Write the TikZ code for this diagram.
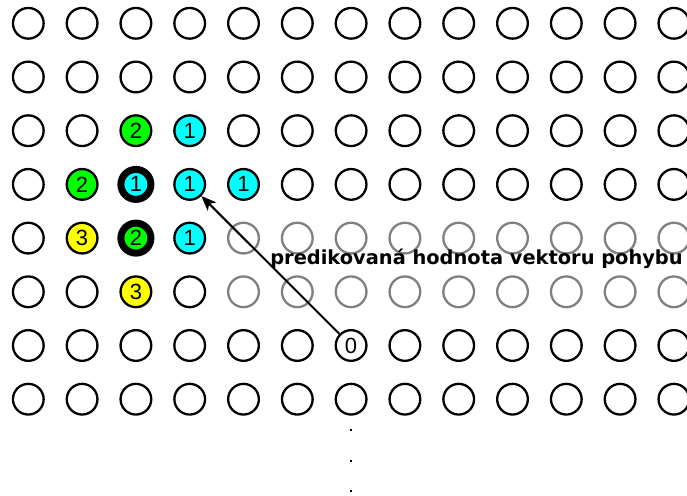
\documentclass[tikz,border=0pt]{standalone}
\usepackage{fontspec}
\setmainfont{Liberation Sans}
\newfontfamily\labelfont{DejaVu Sans}
\usetikzlibrary{arrows.meta}
\definecolor{ringgrey}{HTML}{808080}
\definecolor{mvgreen}{HTML}{00FF00}
\definecolor{mvcyan}{HTML}{00FFFF}
\definecolor{mvyellow}{HTML}{FFFF00}
\begin{document}
\begin{tikzpicture}[x=1pt,y=-1pt,
  cell/.style={circle,draw=black,line width=2.3pt,minimum size=30.7pt,inner sep=0pt,
    font=\fontsize{22}{22}\selectfont},
  faint/.style={cell,draw=ringgrey},
  heavy/.style={cell,line width=7pt,minimum size=30pt},
  dotmark/.style={rectangle,fill=black,inner sep=0pt,minimum size=2.8pt},
  vec/.style={line width=2pt,-{Stealth[length=15pt,width=12pt,inset=4pt]}}]
\useasboundingbox (0,0) rectangle (687,495);
% plain rings
\foreach \j/\cols in {0/{0,1,...,12},1/{0,1,...,12},2/{0,1,4,5,...,12},3/{0,5,6,...,12},
                      4/{0},5/{0,1,3},6/{0,1,2,3,4,5,7,8,9,10,11,12},7/{0,1,...,12}}{
  \foreach \i in \cols {
    \node[cell] (c\i-\j) at ({28.3+53.8*\i},{23.3+53.7*\j}) {};
  }
}
% grey rings
\foreach \j in {4,5}{
  \foreach \i in {4,5,...,12}{
    \node[faint] (c\i-\j) at ({28.3+53.8*\i},{23.3+53.7*\j}) {};
  }
}
% numbered rings
\node[cell,fill=mvgreen]  (c2-2) at ({28.3+53.8*2},{23.3+53.7*2}) {2};
\node[cell,fill=mvcyan]   (c3-2) at ({28.3+53.8*3},{23.3+53.7*2}) {1};
\node[cell,fill=mvgreen]  (c1-3) at ({28.3+53.8*1},{23.3+53.7*3}) {2};
\node[heavy,fill=mvcyan]  (c2-3) at ({28.3+53.8*2},{23.3+53.7*3}) {1};
\node[cell,fill=mvcyan]   (c3-3) at ({28.3+53.8*3},{23.3+53.7*3}) {1};
\node[cell,fill=mvcyan]   (c4-3) at ({28.3+53.8*4},{23.3+53.7*3}) {1};
\node[cell,fill=mvyellow] (c1-4) at ({28.3+53.8*1},{23.3+53.7*4}) {3};
\node[heavy,fill=mvgreen] (c2-4) at ({28.3+53.8*2},{23.3+53.7*4}) {2};
\node[cell,fill=mvcyan]   (c3-4) at ({28.3+53.8*3},{23.3+53.7*4}) {1};
\node[cell,fill=mvyellow] (c2-5) at ({28.3+53.8*2},{23.3+53.7*5}) {3};
\node[cell]               (c6-6) at ({28.3+53.8*6},{23.3+53.7*6}) {0};
% continuation dots
\node[dotmark] (d1) at (351,430) {};
\node[dotmark] (d2) at (351,461) {};
\node[dotmark] (d3) at (351,491) {};
% predicted vector
\draw[vec] (c6-6) -- (c3-3);
\node[font=\labelfont\bfseries\fontsize{19.4}{20}\selectfont,inner sep=0pt,anchor=base]
  (label) at (476.5,264) {predikovaná hodnota vektoru pohybu};
\end{tikzpicture}
\end{document}
